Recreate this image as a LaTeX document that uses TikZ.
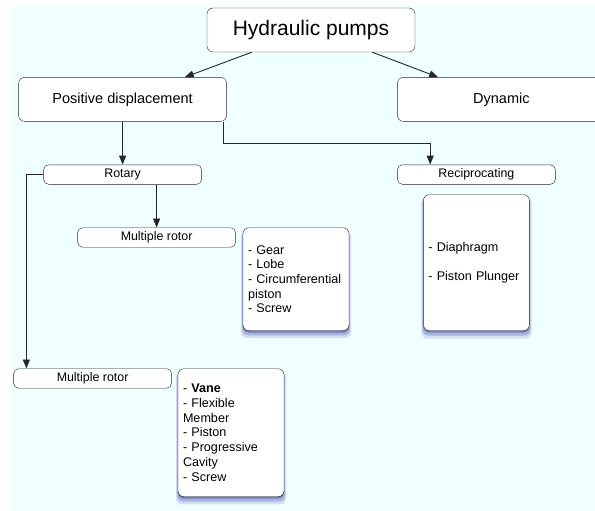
\documentclass[tikz,border=0pt]{standalone}
\usepackage{fontspec}
\setmainfont{Liberation Sans}
\usepackage{tikz}
\usetikzlibrary{arrows.meta, positioning, shadows}
\definecolor{bgcyan}{HTML}{F0FFFF}
\tikzset{
  bigblk/.style={
    rectangle, draw=black!85, fill=white,
    minimum width=208pt, minimum height=44pt,
    rounded corners=6pt, align=center,
    font=\fontsize{14.5}{17}\selectfont
  },
  smlblk/.style={
    rectangle, draw=black!85, fill=white,
    minimum width=158pt, minimum height=19.5pt, inner sep=0pt,
    rounded corners=5pt, align=center,
    font=\fontsize{12.4}{14}\selectfont
  },
  lstblk/.style={
    rectangle, draw=black!85, fill=white,
    text width=96pt, inner xsep=5pt, minimum height=#1,
    rounded corners=6pt, align=left,
    font=\fontsize{12.6}{14.7}\selectfont,
    drop shadow={shadow xshift=0pt, shadow yshift=-5pt, shadow scale=1.04,
                 fill=blue!60!black, opacity=0.12},
    drop shadow={shadow xshift=0pt, shadow yshift=-3.5pt, shadow scale=1.02,
                 fill=blue!60!black, opacity=0.2},
    drop shadow={shadow xshift=0pt, shadow yshift=-2pt,
                 fill=blue!40!black, opacity=0.3}
  },
  arr/.style={line width=0.9pt, draw=black!85, -{Triangle[length=9pt, width=7pt]}}
}

\begin{document}
\begin{tikzpicture}[node distance=25pt]
  \useasboundingbox (0,0) rectangle (595pt,-511pt);
  \fill[bgcyan] (11pt,-6pt) rectangle (595pt,-511pt);

  \node[bigblk, font=\fontsize{21}{25}\selectfont] (hyd) at (311pt,-30pt) {Hydraulic pumps};
  \node[bigblk, below left=25pt and -20pt of hyd.south west]  (posd) {Positive displacement};
  \node[bigblk, below right=25pt and -18pt of hyd.south east] (dyn)  {Dynamic};

  \node[smlblk, below=43pt of posd] (rot) {Rotary};
  \node[smlblk, below right=43pt and 0pt of dyn.south west] (recip) {Reciprocating};
  \node[lstblk=136pt, below=10pt of recip] (reclist)
    {- Diaphragm\\[14.7pt]- Piston Plunger};

  \node[smlblk, below right=43pt and 34pt of rot.south west] (multA) {Multiple rotor};
  \node[lstblk=103pt, below right=0pt and 7pt of multA.north east] (multAlist)
    {- Gear\\- Lobe\\- Circumferential\\piston\\- Screw};

  \node[smlblk, below right=184pt and -30pt of rot.south west] (multB) {Multiple rotor};
  \node[lstblk=128pt, below right=0pt and 6pt of multB.north east] (multBlist)
    {- \textbf{Vane}\\- Flexible\\Member\\- Piston\\- Progressive\\Cavity\\- Screw};

  \draw[arr] ([xshift=45pt]hyd.south west)  -- ([xshift=-42pt]posd.north east);
  \draw[arr] ([xshift=-43pt]hyd.south east) -- ([xshift=41pt]dyn.north west);
  \draw[arr] (posd.south) -- (rot.north);
  \draw[arr] ([xshift=-3pt]posd.south east) -- ++(0,-22pt) -| ([xshift=33pt]recip.north west);
  \draw[arr] (rot.south -| multA.north) -- (multA.north);
  \draw[arr] (rot.west) -| ([xshift=13pt]multB.north west);
\end{tikzpicture}
\end{document}
